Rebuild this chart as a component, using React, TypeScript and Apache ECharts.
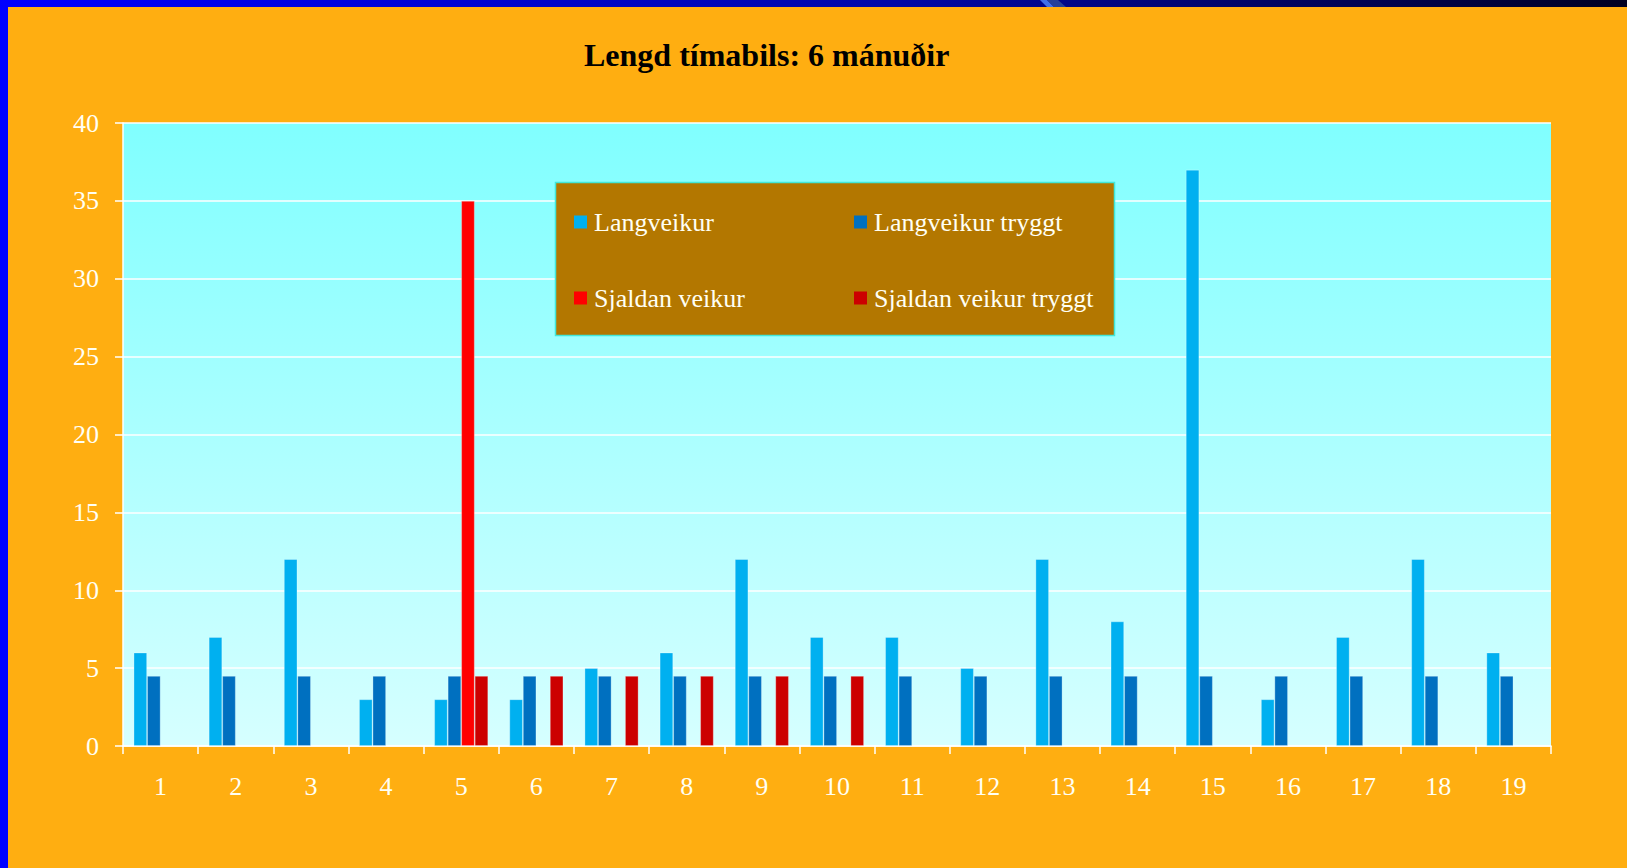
import React, { useEffect, useRef } from "react";
import * as echarts from "echarts";

const categories = ["1", "2", "3", "4", "5", "6", "7", "8", "9", "10", "11", "12", "13", "14", "15", "16", "17", "18", "19"];
const seriesNames = ["Langveikur", "Langveikur tryggt", "Sjaldan veikur", "Sjaldan veikur tryggt"];
const langveikur = [6, 7, 12, 3, 3, 3, 5, 6, 12, 7, 7, 5, 12, 8, 37, 3, 7, 12, 6];
const langveikurTryggt = [4.5, 4.5, 4.5, 4.5, 4.5, 4.5, 4.5, 4.5, 4.5, 4.5, 4.5, 4.5, 4.5, 4.5, 4.5, 4.5, 4.5, 4.5, 4.5];
const sjaldanVeikur = [null, null, null, null, 35, null, null, null, null, null, null, null, null, null, null, null, null, null, null];
const sjaldanVeikurTryggt = [null, null, null, null, 4.5, 4.5, 4.5, 4.5, 4.5, 4.5, null, null, null, null, null, null, null, null, null];
const seriesColors = ["#00B0F0", "#0070C0", "#FF0000", "#CC0000"];
const titleText = "Lengd tímabils: 6 mánuðir";

const FONT = "'Liberation Serif', 'Times New Roman', serif";

export default function App() {
  const ref = useRef<HTMLDivElement>(null);

  useEffect(() => {
    if (!ref.current) return;
    const chart = echarts.init(ref.current, undefined, { renderer: "svg" });
    const allData = [langveikur, langveikurTryggt, sjaldanVeikur, sjaldanVeikurTryggt];

    const legendPos = [
      { left: 574, top: 207 },
      { left: 854, top: 207 },
      { left: 574, top: 283 },
      { left: 854, top: 283 },
    ];

    const option: any = {
      animation: false,
      backgroundColor: "#FFAE11",
      title: {
        text: titleText,
        left: 584,
        top: 35,
        padding: 0,
        textStyle: {
          fontFamily: FONT,
          fontWeight: "bold",
          fontSize: 32,
          lineHeight: 40,
          color: "#000000",
        },
      },
      legend: seriesNames.map((name, i) => ({
        data: [name],
        left: legendPos[i].left,
        top: legendPos[i].top,
        padding: 0,
        icon: "rect",
        itemWidth: 13,
        itemHeight: 13,
        selectedMode: false,
        z: 5,
        itemStyle: { borderWidth: 0 },
        textStyle: {
          fontFamily: FONT,
          fontSize: 26,
          lineHeight: 30,
          color: "#FFFFF4",
          padding: [0, 0, 0, 2],
        },
      })),
      graphic: [
        {
          type: "rect",
          shape: { x: 0, y: 0, width: 8, height: 868 },
          style: { fill: "#0000FF" },
          z: 10,
        },
        {
          type: "rect",
          shape: { x: 0, y: 0, width: 1627, height: 7 },
          style: {
            fill: new echarts.graphic.LinearGradient(0, 0, 1, 0, [
              { offset: 0, color: "#0000FF" },
              { offset: 0.55, color: "#0008A8" },
              { offset: 1, color: "#000022" },
            ]),
          },
          z: 10,
        },
        {
          type: "polygon",
          shape: { points: [[1040, 0], [1047, 0], [1054, 7], [1047, 7]] },
          style: { fill: "#4070E8" },
          z: 11,
        },
        {
          type: "polygon",
          shape: { points: [[1047, 0], [1058, 0], [1066, 7], [1054, 7]] },
          style: { fill: "#24409A" },
          z: 11,
        },
        {
          type: "rect",
          shape: { x: 555.5, y: 182.5, width: 559, height: 153 },
          style: { fill: "#B37700", stroke: "#40E8D8", lineWidth: 1.5 },
          z: 3,
        },
      ],
      grid: {
        left: 123,
        right: 76,
        top: 123,
        bottom: 122,
        show: true,
        borderWidth: 0,
        backgroundColor: new echarts.graphic.LinearGradient(0, 0, 0, 1, [
          { offset: 0, color: "#80FFFF" },
          { offset: 1, color: "#D6FFFF" },
        ]),
      },
      xAxis: {
        type: "category",
        data: categories,
        boundaryGap: true,
        axisLine: { show: true, lineStyle: { color: "#FFFFFF", width: 1.5 } },
        axisTick: { show: true, length: 8, interval: 0, lineStyle: { color: "#FFFFFF", width: 1.5 } },
        axisLabel: {
          margin: 27,
          interval: 0,
          fontFamily: FONT,
          fontSize: 26,
          color: "#FFFFF4",
        },
        splitLine: { show: false },
      },
      yAxis: {
        type: "value",
        min: 0,
        max: 40,
        interval: 5,
        axisLine: { show: true, lineStyle: { color: "#FFFFFF", width: 1.5 } },
        axisTick: { show: true, length: 8, lineStyle: { color: "#FFFFFF", width: 1.5 } },
        axisLabel: {
          margin: 24,
          fontFamily: FONT,
          fontSize: 26,
          color: "#FFFFF4",
        },
        splitLine: { show: true, lineStyle: { color: "#FFFFFF", width: 1.5 } },
      },
      series: seriesNames.map((name, i) => ({
        name,
        type: "bar",
        data: allData[i],
        barWidth: 13.5,
        barGap: "0%",
        itemStyle: {
          color: seriesColors[i],
          borderColor: "rgba(255,255,255,0.35)",
          borderWidth: 0.8,
        },
      })),
    };

    chart.setOption(option);
    return () => chart.dispose();
  }, []);

  return (
    <div
      ref={ref}
      style={{ position: "fixed", left: 0, top: 0, width: 1627, height: 868 }}
    />
  );
}
